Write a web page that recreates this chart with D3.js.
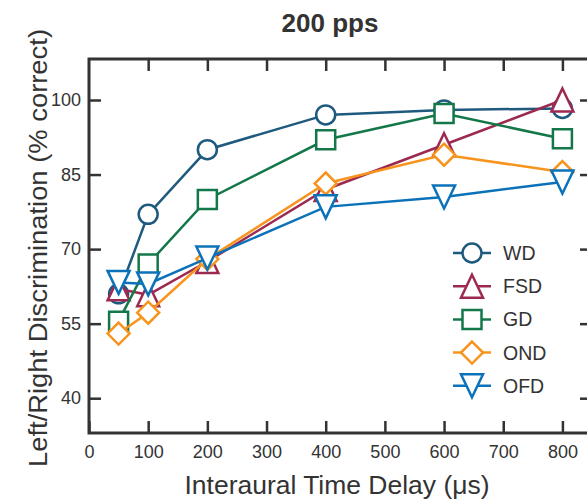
<!DOCTYPE html>
<html>
<head>
<meta charset="utf-8">
<script src="https://cdn.jsdelivr.net/npm/d3@7"></script>
<style>
  body { margin: 0; background: #fff; }
  text { font-family: "Liberation Sans", Arial, sans-serif; fill: #333; }
</style>
</head>
<body>
<div id="container"></div>
<script>
/* DATA */
const itd = [50, 100, 200, 400, 600, 800];
const seriesNames = ["WD", "FSD", "GD", "OND", "OFD"];
const wd  = [61, 77, 90, 97, 98, 98.3];
const fsd = [62, 60.8, 67.5, 82, 91, 100];
const gd  = [55.5, 67, 80, 92, 97.3, 92.2];
const ond = [53, 57.2, 68, 83.2, 89, 85.5];
const ofd = [63.3, 63, 68.2, 78.5, 80.5, 83.5];
const xTicks = [0, 100, 200, 300, 400, 500, 600, 700, 800];
const yTicks = [40, 55, 70, 85, 100];

const colors = ["#1d5a7e", "#9c2a50", "#14774a", "#f7941d", "#0b72ba"];
const shapes = ["circle", "triangleUp", "square", "diamond", "triangleDown"];
const allSeries = [wd, fsd, gd, ond, ofd];

/* CONSTANTS */
const width = 587, height = 501;
const margin = {left: 89, top: 59, right: -5, bottom: 68};

const svg = d3.select("#container").append("svg")
    .attr("width", width)
    .attr("height", height);

const xScale = d3.scaleLinear().domain([0, 850]).range([margin.left, width - margin.right]);
const yScale = d3.scaleLinear().domain([33, 108.25]).range([height - margin.bottom, margin.top]);

// marker path centred on 0,0
const marker = (shape) => {
  const p = d3.path();
  if (shape === "circle") { p.arc(0, 0, 9.5, 0, 2 * Math.PI); }
  else if (shape === "square") { p.rect(-9.5, -9.5, 19, 19); }
  else if (shape === "diamond") { p.moveTo(0, -11); p.lineTo(11, 0); p.lineTo(0, 11); p.lineTo(-11, 0); p.closePath(); }
  else if (shape === "triangleUp") { p.moveTo(0, -11.5); p.lineTo(11, 11.5); p.lineTo(-11, 11.5); p.closePath(); }
  else { p.moveTo(0, 11.5); p.lineTo(11, -11.5); p.lineTo(-11, -11.5); p.closePath(); }
  return p.toString();
};

/* AXES */
const x0 = xScale.range()[0], x1 = xScale.range()[1];
const y0 = yScale.range()[0], y1 = yScale.range()[1];

const axisStyle = g => {
  g.select(".domain").remove();
  g.selectAll(".tick line").attr("stroke", "#333").attr("stroke-width", 2.5);
  g.selectAll(".tick text").style("font-size", "18px").attr("fill", "#333");
};

svg.append("g")
    .attr("transform", `translate(0,${y0})`)
    .call(d3.axisBottom(xScale).tickValues(xTicks).tickSizeInner(-12).tickSizeOuter(0).tickPadding(12))
    .call(axisStyle);
svg.append("g")
    .attr("transform", `translate(0,${y1})`)
    .call(d3.axisTop(xScale).tickValues(xTicks.slice(1)).tickSizeInner(-12).tickSizeOuter(0).tickFormat(""))
    .call(axisStyle);
svg.append("g")
    .attr("transform", `translate(${x0},0)`)
    .call(d3.axisLeft(yScale).tickValues(yTicks).tickSizeInner(-12).tickSizeOuter(0).tickPadding(8))
    .call(axisStyle);
svg.append("g")
    .attr("transform", `translate(${x1},0)`)
    .call(d3.axisRight(yScale).tickValues(yTicks).tickSizeInner(-12).tickSizeOuter(0).tickFormat(""))
    .call(axisStyle);

svg.append("rect")
    .attr("x", x0).attr("y", y1)
    .attr("width", x1 - x0).attr("height", y0 - y1)
    .attr("fill", "none").attr("stroke", "#333").attr("stroke-width", 3);

/* SERIES */
const line = d3.line().x((d, i) => xScale(itd[i])).y(d => yScale(d));

allSeries.forEach((vals, k) => {
  const g = svg.append("g").attr("class", "series");
  g.append("path")
      .attr("d", line(vals))
      .attr("fill", "none")
      .attr("stroke", colors[k])
      .attr("stroke-width", 2.5);
  g.selectAll("path.mk")
      .data(vals)
      .join("path")
      .attr("class", "mk")
      .attr("transform", (d, i) => `translate(${xScale(itd[i])},${yScale(d)})`)
      .attr("d", marker(shapes[k]))
      .attr("fill", "#fff")
      .attr("stroke", colors[k])
      .attr("stroke-width", 2.5);
});

/* LEGEND */
const legend = svg.append("g").attr("transform", "translate(453,253)");
seriesNames.forEach((name, k) => {
  const row = legend.append("g").attr("transform", `translate(0,${k * 33.2})`);
  row.append("line").attr("x1", 0).attr("x2", 38).attr("y1", 0).attr("y2", 0)
      .attr("stroke", colors[k]).attr("stroke-width", 2.5);
  row.append("path").attr("transform", "translate(19,0)")
      .attr("d", marker(shapes[k]))
      .attr("fill", "#fff").attr("stroke", colors[k]).attr("stroke-width", 2.5);
  row.append("text").attr("x", 50).attr("y", 0).attr("dy", "0.36em")
      .style("font-size", "19.5px").text(name);
});

/* LABELS */
svg.append("text")
    .attr("x", 330).attr("y", 32)
    .attr("text-anchor", "middle")
    .style("font-size", "26px").style("font-weight", "bold")
    .text("200 pps");
svg.append("text")
    .attr("x", 337).attr("y", 494)
    .attr("text-anchor", "middle")
    .attr("textLength", 305).attr("lengthAdjust", "spacingAndGlyphs")
    .style("font-size", "25px")
    .text("Interaural Time Delay (μs)");
svg.append("text")
    .attr("transform", "translate(47,248) rotate(-90)")
    .attr("text-anchor", "middle")
    .attr("textLength", 438).attr("lengthAdjust", "spacingAndGlyphs")
    .style("font-size", "26px")
    .text("Left/Right Discrimination (% correct)");
</script>
</body>
</html>
